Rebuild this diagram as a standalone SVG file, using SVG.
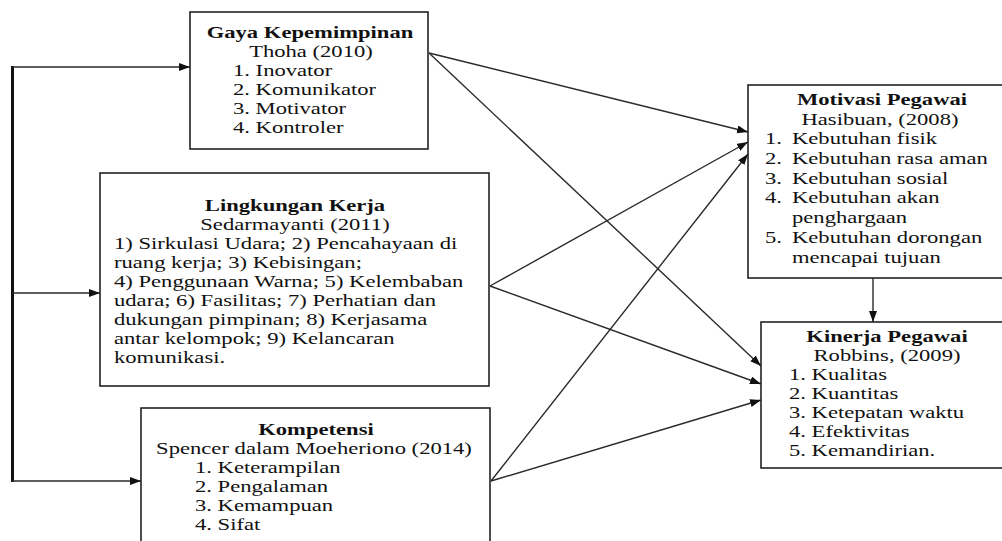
<svg xmlns="http://www.w3.org/2000/svg" width="1002" height="541" viewBox="0 0 1002 541">
<style>
.box{fill:#fff;stroke:#222;stroke-width:1.6}
.t text{font-family:"Liberation Serif","Times New Roman",serif;font-size:17px;fill:#111}
.t .h{font-weight:bold}
.c{text-anchor:middle}
.ln{stroke:#2a2a2a;stroke-width:1.4;fill:none}
.br{stroke:#111;stroke-width:3;fill:none}
</style>
<defs>
<marker id="ah" markerUnits="userSpaceOnUse" markerWidth="12" markerHeight="10" refX="11" refY="4" orient="auto">
<path d="M0,0 L11,4 L0,8 Z" fill="#111"/>
</marker>
</defs>
<rect width="1002" height="541" fill="#fff"/>
<g id="gaya">
<rect class="box" x="190" y="12" width="238" height="137"/>
<g class="t" transform="scale(1.33,1)">
<text class="h c" x="233.08" y="38">Gaya Kepemimpinan</text>
<text class="c" x="233.83" y="57">Thoha (2010)</text>
<text x="175.19" y="76">1. Inovator</text>
<text x="175.19" y="95">2. Komunikator</text>
<text x="175.19" y="114">3. Motivator</text>
<text x="175.19" y="133">4. Kontroler</text>
</g>
</g>
<g id="lingkungan">
<rect class="box" x="100" y="173" width="389" height="213"/>
<g class="t" transform="scale(1.33,1)">
<text class="h c" x="221.80" y="211">Lingkungan Kerja</text>
<text class="c" x="221.80" y="230">Sedarmayanti (2011)</text>
<text x="85.71" y="249">1) Sirkulasi Udara; 2) Pencahayaan di</text>
<text x="85.71" y="268">ruang kerja; 3) Kebisingan;</text>
<text x="85.71" y="287">4) Penggunaan Warna; 5) Kelembaban</text>
<text x="85.71" y="306">udara; 6) Fasilitas; 7) Perhatian dan</text>
<text x="85.71" y="325">dukungan pimpinan; 8) Kerjasama</text>
<text x="85.71" y="344">antar kelompok; 9) Kelancaran</text>
<text x="85.71" y="363">komunikasi.</text>
</g>
</g>
<g id="kompetensi">
<rect class="box" x="141" y="408" width="349" height="150"/>
<g class="t" transform="scale(1.33,1)">
<text class="h c" x="237.59" y="435">Kompetensi</text>
<text class="c" x="236.09" y="454">Spencer dalam Moeheriono (2014)</text>
<text x="146.62" y="473">1. Keterampilan</text>
<text x="146.62" y="492">2. Pengalaman</text>
<text x="146.62" y="511">3. Kemampuan</text>
<text x="146.62" y="530">4. Sifat</text>
</g>
</g>
<g id="motivasi">
<rect class="box" x="748" y="85" width="270" height="193"/>
<g class="t" transform="scale(1.33,1)">
<text class="h c" x="663.16" y="105">Motivasi Pegawai</text>
<text class="c" x="661.65" y="125">Hasibuan, (2008)</text>
<text x="575.19" y="144">1.</text><text x="595.49" y="144">Kebutuhan fisik</text>
<text x="575.19" y="164">2.</text><text x="595.49" y="164">Kebutuhan rasa aman</text>
<text x="575.19" y="184">3.</text><text x="595.49" y="184">Kebutuhan sosial</text>
<text x="575.19" y="203">4.</text><text x="595.49" y="203">Kebutuhan akan</text>
<text x="595.49" y="223">penghargaan</text>
<text x="575.19" y="243">5.</text><text x="595.49" y="243">Kebutuhan dorongan</text>
<text x="595.49" y="263">mencapai tujuan</text>
</g>
</g>
<g id="kinerja">
<rect class="box" x="761" y="322" width="260" height="146"/>
<g class="t" transform="scale(1.33,1)">
<text class="h c" x="666.92" y="342">Kinerja Pegawai</text>
<text class="c" x="666.92" y="361">Robbins, (2009)</text>
<text x="593.23" y="380">1. Kualitas</text>
<text x="593.23" y="399">2. Kuantitas</text>
<text x="593.23" y="418">3. Ketepatan waktu</text>
<text x="593.23" y="437">4. Efektivitas</text>
<text x="593.23" y="456">5. Kemandirian.</text>
</g>
</g>
<g id="connectors">
<path class="br" d="M12.5,66 V482"/>
<line class="ln" x1="12" y1="67" x2="190" y2="67" marker-end="url(#ah)"/>
<line class="ln" x1="12" y1="293" x2="100" y2="293" marker-end="url(#ah)"/>
<line class="ln" x1="12" y1="481" x2="141" y2="481" marker-end="url(#ah)"/>
<line class="ln" x1="429" y1="53" x2="748" y2="132" marker-end="url(#ah)"/>
<line class="ln" x1="429" y1="53" x2="761" y2="366" marker-end="url(#ah)"/>
<line class="ln" x1="490" y1="286" x2="748" y2="142" marker-end="url(#ah)"/>
<line class="ln" x1="490" y1="286" x2="761" y2="384" marker-end="url(#ah)"/>
<line class="ln" x1="491" y1="481" x2="748" y2="154" marker-end="url(#ah)"/>
<line class="ln" x1="491" y1="481" x2="761" y2="400" marker-end="url(#ah)"/>
<line class="ln" x1="873" y1="278" x2="873" y2="322" marker-end="url(#ah)"/>
</g>
</svg>
